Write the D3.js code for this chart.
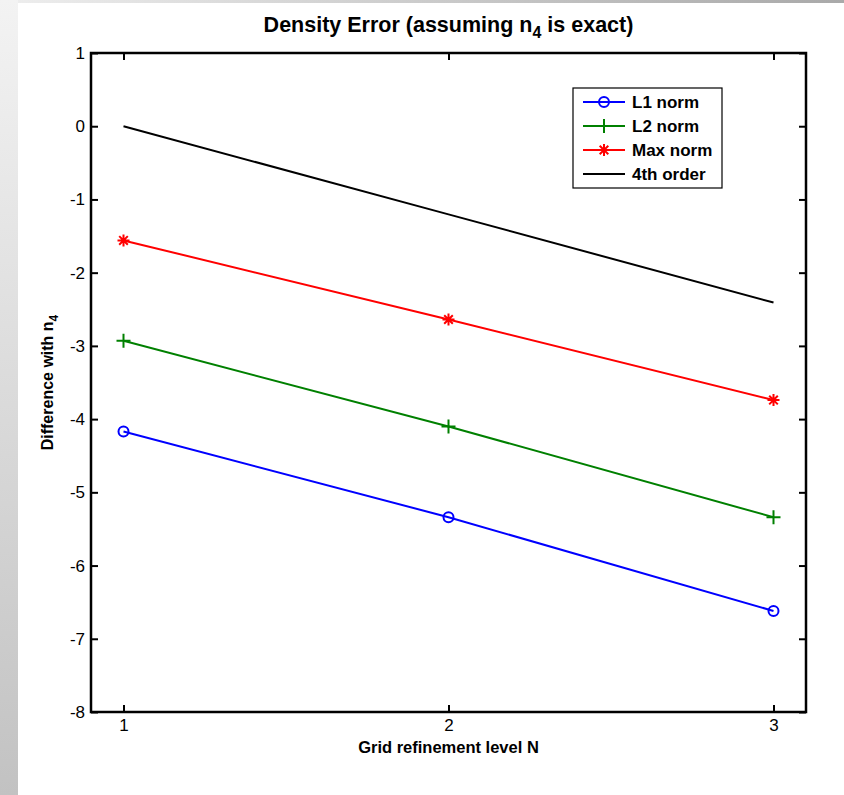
<!DOCTYPE html>
<html>
<head>
<meta charset="utf-8">
<script src="https://cdn.jsdelivr.net/npm/d3@7/dist/d3.min.js"></script>
<style>
  html, body { margin: 0; padding: 0; background: #ffffff; }
  svg { display: block; }
  text { font-family: "Liberation Sans", Arial, sans-serif; fill: #000; }
</style>
</head>
<body>
<svg id="chart" width="844" height="795"></svg>
<script>
// Refinement levels and log10 error norms against the finest solution n4
const levels = [1, 2, 3];
const l1Norm = [-4.17, -5.34, -6.62];
const l2Norm = [-2.93, -4.10, -5.34];
const maxNorm = [-1.56, -2.64, -3.74];
const fourthOrder = [0, -1.204, -2.408];
const xTicks = [1, 2, 3];
const yTicks = [1, 0, -1, -2, -3, -4, -5, -6, -7, -8];
const seriesNames = ["L1 norm", "L2 norm", "Max norm", "4th order"];

const svg = d3.select("#chart");
const W = 844, H = 795;

// Window frame shading along the left and top edges
const defs = svg.append("defs");
const gl = defs.append("linearGradient").attr("id", "leftShade")
  .attr("x1", 0).attr("y1", 0).attr("x2", 0).attr("y2", 1);
gl.append("stop").attr("offset", 0).attr("stop-color", "#f3f3f3");
gl.append("stop").attr("offset", 1).attr("stop-color", "#c2c2c2");
const gt = defs.append("linearGradient").attr("id", "topShade")
  .attr("x1", 0).attr("y1", 0).attr("x2", 1).attr("y2", 0);
gt.append("stop").attr("offset", 0).attr("stop-color", "#eeeeee");
gt.append("stop").attr("offset", 1).attr("stop-color", "#a9a9a9");
svg.append("rect").attr("x", 0).attr("y", 0).attr("width", W).attr("height", 3).attr("fill", "url(#topShade)");
svg.append("rect").attr("x", 0).attr("y", 0).attr("width", 18).attr("height", H).attr("fill", "url(#leftShade)");

const plotL = 91, plotR = 806, plotT = 53, plotB = 712;
const x = d3.scaleLinear().domain([0.9, 3.1]).range([plotL, plotR]);
const y = d3.scaleLinear().domain([-8, 1]).range([plotB, plotT]);

const tickLen = 7;
const g = svg.append("g");

// Inward ticks on all four sides; labels use a plain hyphen for negatives
const fmt = d => String(d);
const axes = [
  d3.axisBottom(x).tickValues(xTicks).tickFormat(fmt),
  d3.axisTop(x).tickValues(xTicks).tickFormat(""),
  d3.axisLeft(y).tickValues(yTicks).tickFormat(fmt),
  d3.axisRight(y).tickValues(yTicks).tickFormat("")
];
const pos = [`translate(0,${plotB})`, `translate(0,${plotT})`, `translate(${plotL},0)`, `translate(${plotR},0)`];
axes.forEach((a, i) => {
  a.tickSizeInner(-tickLen).tickSizeOuter(0).tickPadding(i === 0 ? 7 : 6);
  const ax = g.append("g").attr("transform", pos[i]).call(a);
  ax.attr("font-size", null).attr("font-family", null);
  ax.select(".domain").remove();
  ax.selectAll(".tick line").attr("stroke", "#000").attr("stroke-width", 2);
  ax.selectAll(".tick text").style("font-size", "17px").style("fill", "#000");
});

// Plot box
g.append("rect").attr("x", plotL).attr("y", plotT).attr("width", plotR - plotL).attr("height", plotB - plotT)
  .attr("fill", "none").attr("stroke", "#000").attr("stroke-width", 2.5);

const line = d3.line().x((d, i) => x(levels[i])).y(d => y(d));

const series = [
  { name: seriesNames[0], values: l1Norm, color: "#0000ff", marker: "circle" },
  { name: seriesNames[1], values: l2Norm, color: "#008000", marker: "plus" },
  { name: seriesNames[2], values: maxNorm, color: "#ff0000", marker: "star" },
  { name: seriesNames[3], values: fourthOrder, color: "#000000", marker: null }
];

function drawMarker(sel, type, cx, cy, color) {
  if (type === "circle") {
    sel.append("circle").attr("cx", cx).attr("cy", cy).attr("r", 5)
      .attr("fill", "none").attr("stroke", color).attr("stroke-width", 2);
  } else if (type === "plus") {
    const s = 7;
    sel.append("path").attr("d", `M${cx - s},${cy}H${cx + s}M${cx},${cy - s}V${cy + s}`)
      .attr("stroke", color).attr("stroke-width", 2).attr("fill", "none");
  } else if (type === "star") {
    const s = 6, d = 4.3;
    sel.append("path")
      .attr("d", `M${cx - s},${cy}H${cx + s}M${cx},${cy - s}V${cy + s}M${cx - d},${cy - d}L${cx + d},${cy + d}M${cx - d},${cy + d}L${cx + d},${cy - d}`)
      .attr("stroke", color).attr("stroke-width", 2).attr("fill", "none");
  }
}

series.forEach(s => {
  g.append("path").datum(s.values).attr("d", line)
    .attr("fill", "none").attr("stroke", s.color).attr("stroke-width", 2);
  if (s.marker) {
    s.values.forEach((v, i) => drawMarker(g, s.marker, x(levels[i]), y(v), s.color));
  }
});

// Legend
const lg = svg.append("g");
const lx = 573, ly = 88, lw = 149, lh = 100;
lg.append("rect").attr("x", lx).attr("y", ly).attr("width", lw).attr("height", lh)
  .attr("fill", "#fff").attr("stroke", "#000").attr("stroke-width", 1.2);
series.forEach((s, i) => {
  const cy = ly + 14 + i * 24;
  lg.append("line").attr("x1", lx + 10).attr("x2", lx + 52).attr("y1", cy).attr("y2", cy)
    .attr("stroke", s.color).attr("stroke-width", 2);
  if (s.marker) drawMarker(lg, s.marker, lx + 31, cy, s.color);
  lg.append("text").attr("x", lx + 59).attr("y", cy).attr("dy", "0.36em")
    .style("font-size", "17px").attr("font-weight", "bold").text(s.name);
});

// Title with subscript
const title = svg.append("text").attr("x", (plotL + plotR) / 2).attr("y", 32)
  .attr("text-anchor", "middle").style("font-size", "21.5px").attr("font-weight", "bold");
title.append("tspan").text("Density Error (assuming n");
title.append("tspan").attr("dy", 6).style("font-size", "16px").text("4");
title.append("tspan").attr("dy", -6).text(" is exact)");

// Axis labels
svg.append("text").attr("x", (plotL + plotR) / 2).attr("y", 753)
  .attr("text-anchor", "middle").style("font-size", "16.5px").attr("font-weight", "bold")
  .text("Grid refinement level N");

const yl = svg.append("text").attr("transform", `translate(53,${(plotT + plotB) / 2}) rotate(-90)`)
  .attr("text-anchor", "middle").style("font-size", "16px").attr("font-weight", "bold");
yl.append("tspan").text("Difference with n");
yl.append("tspan").attr("dy", 5).style("font-size", "12px").text("4");
</script>
</body>
</html>
